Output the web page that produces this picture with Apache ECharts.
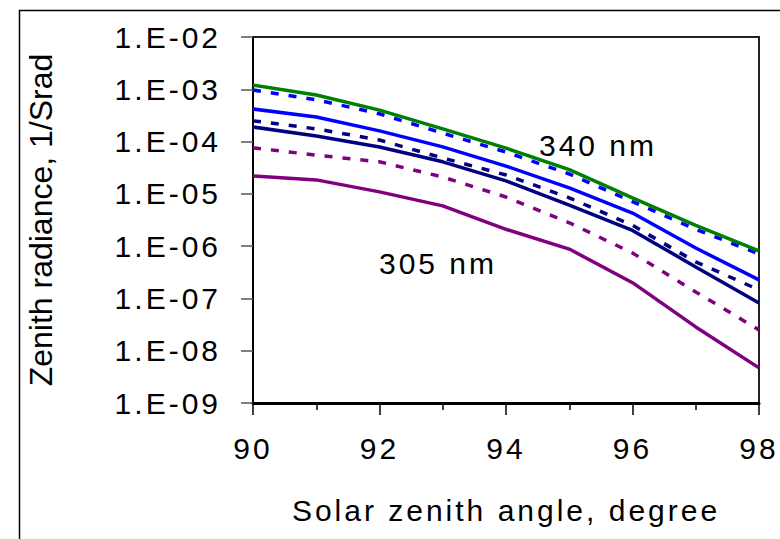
<!DOCTYPE html>
<html>
<head>
<meta charset="utf-8">
<script src="https://cdn.jsdelivr.net/npm/echarts@6/dist/echarts.min.js"></script>
<style>
  html, body { margin: 0; padding: 0; background: #fff; }
  #chart { width: 780px; height: 539px; }
</style>
</head>
<body>
<div id="chart"></div>
<script>
// solar zenith angle, degree
var angles = [90, 91, 92, 93, 94, 95, 96, 97, 98];
// zenith radiance, 1/Srad
var green340 = [1.2e-3, 7.8e-4, 4.0e-4, 1.75e-4, 7.5e-5, 2.9e-5, 8.4e-6, 2.5e-6, 8.1e-7];
var blueDash = [9.7e-4, 6.3e-4, 3.4e-4, 1.45e-4, 6.3e-5, 2.4e-5, 7.1e-6, 2.1e-6, 7.1e-7];
var blueSolid = [4.2e-4, 2.95e-4, 1.6e-4, 7.9e-5, 3.4e-5, 1.3e-5, 4.3e-6, 9.2e-7, 2.26e-7];
var navyDash = [2.5e-4, 1.75e-4, 1.07e-4, 4.85e-5, 2.3e-5, 8.4e-6, 2.5e-6, 5.0e-7, 1.46e-7];
var navySolid = [1.9e-4, 1.28e-4, 7.9e-5, 4.1e-5, 1.77e-5, 6.1e-6, 2.0e-6, 4.0e-7, 8.2e-8];
var purpleDash = [7.6e-5, 5.5e-5, 4.1e-5, 2.1e-5, 8.7e-6, 2.8e-6, 7.4e-7, 1.33e-7, 2.5e-8];
var purple305 = [2.2e-5, 1.85e-5, 1.09e-5, 5.9e-6, 2.1e-6, 8.8e-7, 2.0e-7, 2.85e-8, 4.7e-9];
// y tick labels, indexed by -exponent
var yTickLabels = {9: '1.E-09', 8: '1.E-08', 7: '1.E-07', 6: '1.E-06', 5: '1.E-05', 4: '1.E-04', 3: '1.E-03', 2: '1.E-02'};

var font = "'Liberation Sans', Arial, sans-serif";

function pairs(ys) {
    return angles.map(function (a, i) { return [a, ys[i]]; });
}

function line(name, ys, color, dashed) {
    return {
        name: name,
        type: 'line',
        data: pairs(ys),
        showSymbol: false,
        animation: false,
        lineStyle: { color: color, width: 3.5, type: dashed ? [8, 10] : 'solid' }
    };
}

var chart = echarts.init(document.getElementById('chart'), null, { renderer: 'svg' });

var option = {
    animation: false,
    backgroundColor: '#fff',
    grid: {
        left: 253, right: 21, top: 37, bottom: 136,
        show: true, borderColor: '#222', borderWidth: 2
    },
    xAxis: {
        type: 'value',
        min: 90, max: 98, interval: 2,
        name: 'Solar zenith angle, degree',
        nameLocation: 'middle',
        nameGap: 92,
        nameTextStyle: { fontFamily: font, fontSize: 30, color: '#000' },
        axisLine: { lineStyle: { color: '#000', width: 3 } },
        axisTick: { inside: false, length: 12, lineStyle: { color: '#000', width: 1.5 } },
        minorTick: { show: true, splitNumber: 2, length: 7, lineStyle: { color: '#000', width: 1.5 } },
        splitLine: { show: false },
        axisLabel: { fontFamily: font, fontSize: 30, color: '#000', margin: 30 }
    },
    yAxis: {
        type: 'log',
        logBase: 10,
        min: 1e-9, max: 1e-2,
        name: 'Zenith radiance, 1/Srad',
        nameLocation: 'middle',
        nameGap: 196,
        nameRotate: 90,
        nameTextStyle: { fontFamily: font, fontSize: 32, color: '#000' },
        axisLine: { show: true, lineStyle: { color: '#000', width: 2 } },
        axisTick: { inside: false, length: 12, lineStyle: { color: '#555', width: 1.5 } },
        splitLine: { show: false },
        axisLabel: {
            fontFamily: font, fontSize: 30, color: '#000', margin: 32,
            formatter: function (v) {
                return yTickLabels[-Math.round(Math.log10(v))] || '';
            }
        }
    },
    graphic: [
        // outer chart-area frame (only top and left edges are in view)
        { type: 'rect', left: 17, top: 8, shape: { width: 900, height: 700 },
          style: { fill: 'none', stroke: '#000', lineWidth: 1.5 }, silent: true },
        { type: 'text', x: 598, y: 145,
          style: { text: '340 nm', fill: '#000', font: '30px ' + font, textAlign: 'center', textVerticalAlign: 'middle' } },
        { type: 'text', x: 438, y: 263,
          style: { text: '305 nm', fill: '#000', font: '30px ' + font, textAlign: 'center', textVerticalAlign: 'middle' } }
    ],
    series: [
        line('purple solid', purple305, '#800080', false),
        line('purple dashed', purpleDash, '#800080', true),
        line('navy solid', navySolid, '#000080', false),
        line('navy dashed', navyDash, '#000080', true),
        line('blue solid', blueSolid, '#0000ff', false),
        line('blue dashed', blueDash, '#0000ff', true),
        line('340 nm', green340, '#008000', false)
    ]
};

// the original lettering is widely spaced; widen all texts except the y-axis title
function spaceText() {
    var texts = document.querySelectorAll('#chart svg text');
    for (var i = 0; i < texts.length; i++) {
        var t = texts[i];
        t.style.letterSpacing = t.textContent.indexOf('Zenith') === 0 ? '0px' : '3px';
    }
}
chart.on('finished', spaceText);
chart.setOption(option);
spaceText();
</script>
</body>
</html>
